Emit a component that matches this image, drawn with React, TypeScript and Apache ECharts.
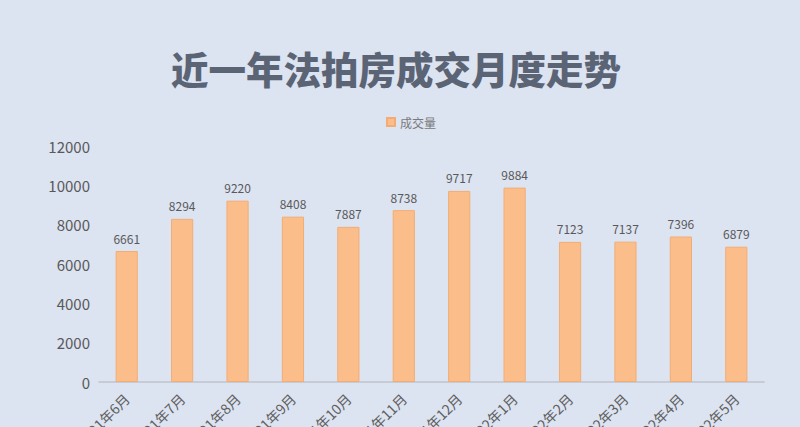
import { useEffect, useRef } from 'react'
import * as echarts from 'echarts'

const months = [
  '2021年6月', '2021年7月', '2021年8月', '2021年9月', '2021年10月', '2021年11月',
  '2021年12月', '2022年1月', '2022年2月', '2022年3月', '2022年4月', '2022年5月',
]
const deals = [6661, 8294, 9220, 8408, 7887, 8738, 9717, 9884, 7123, 7137, 7396, 6879]

const FONT = '"Noto Sans CJK SC", "Noto Sans", sans-serif'

export default function App() {
  const hostRef = useRef<HTMLDivElement | null>(null)

  useEffect(() => {
    document.body.style.margin = '0'
    const host = hostRef.current
    if (!host) return
    const chart = echarts.init(host, undefined, { renderer: 'svg' })
    chart.setOption({
      animation: false,
      backgroundColor: '#dce3f1',
      textStyle: { fontFamily: FONT },
      title: {
        text: '近一年法拍房成交月度走势',
        left: 166,
        top: 44,
        textStyle: { fontSize: 37.5, fontWeight: 900, color: '#5b6475', fontFamily: FONT },
      },
      legend: {
        top: 111,
        left: 381,
        itemWidth: 8,
        itemHeight: 8,
        icon: 'rect',
        textStyle: { color: '#7a7a7a', fontSize: 12, fontFamily: FONT },
      },
      grid: { left: 99, right: 36, top: 146, bottom: 45, containLabel: false, outerBoundsMode: 'none' },
      xAxis: {
        type: 'category',
        data: months,
        axisTick: { show: false },
        axisLine: { lineStyle: { color: '#bfc3cb', width: 1.5 } },
        axisLabel: { rotate: 45, color: '#5f5f5f', fontSize: 14, margin: 14, interval: 0 },
      },
      yAxis: {
        type: 'value',
        min: 0,
        max: 12000,
        interval: 2000,
        axisLine: { show: false },
        axisTick: { show: false },
        splitLine: { show: false },
        axisLabel: { color: '#595959', fontSize: 15, margin: 9, formatter: (v: number) => String(v) },
      },
      series: [
        {
          name: '成交量',
          type: 'bar',
          data: deals,
          barWidth: '40%',
          itemStyle: { color: '#fbbe8b', borderColor: '#f3ac73', borderWidth: 1 },
          label: { show: true, position: 'top', color: '#595959', fontSize: 12, distance: 7 },
        },
      ],
    })
    return () => chart.dispose()
  }, [])

  return <div ref={hostRef} style={{ width: 800, height: 427 }} />
}
